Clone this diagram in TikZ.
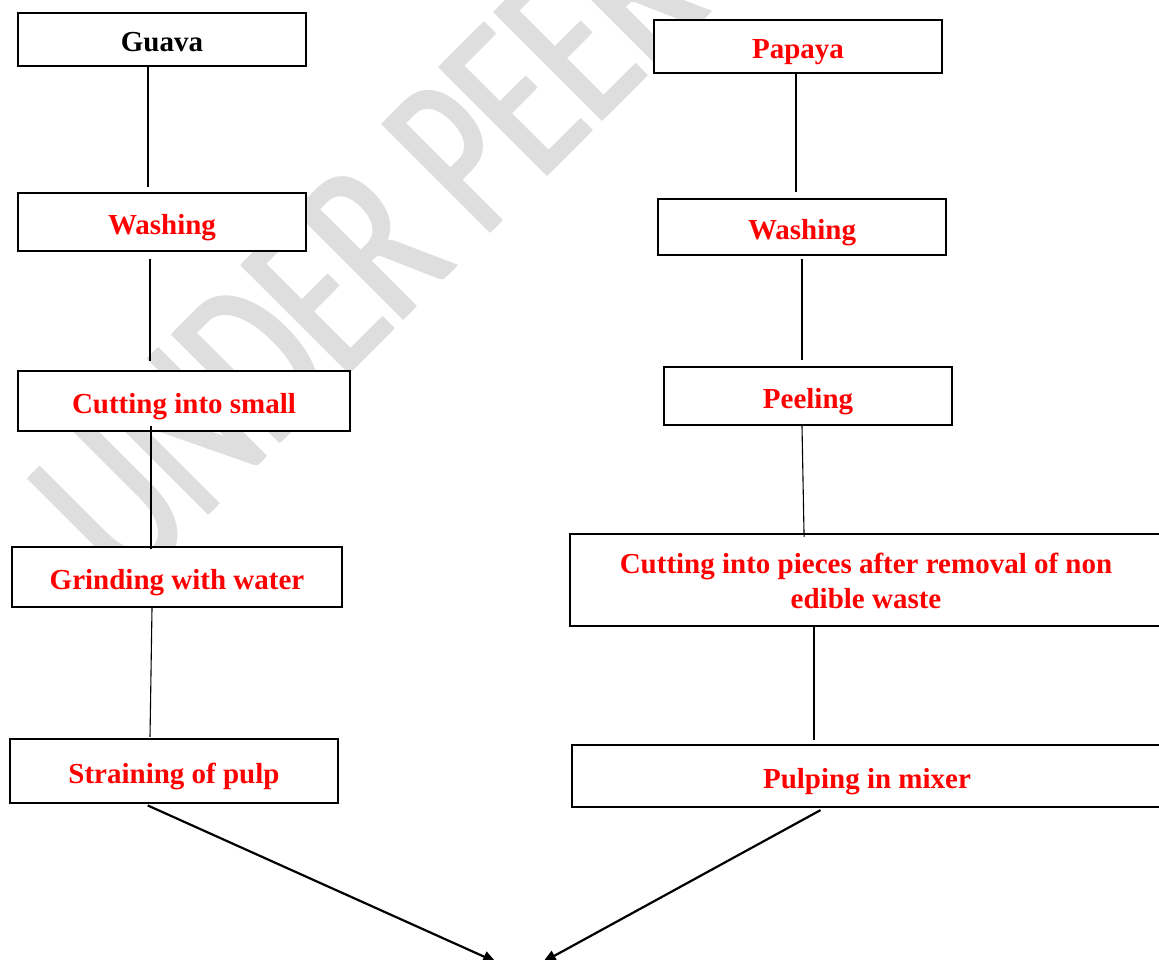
\documentclass[tikz,border=0pt]{standalone}
\usepackage{fontspec}
\setmainfont{Liberation Serif}
\newfontfamily\markfont{Carlito}
\usetikzlibrary{arrows.meta}
\newcommand\marktext{UNDER PEER REVIEW}
\tikzset{
	stepbox/.style={draw, fill=white, line width=2.4pt, inner sep=0pt, text height=27pt, text depth=3pt,
		font=\fontsize{29}{35}\selectfont\bfseries, text=red},
	link/.style={line width=1.1pt},
	flow/.style={line width=2.2pt, -{Triangle[length=13pt,width=11pt]}}
}

\begin{document}
\begin{tikzpicture}[x=1pt, y=-1pt]
				\useasboundingbox (0,0) rectangle (1159,959);
				
				% watermark behind everything
				\node[rotate=45, anchor=base west, inner sep=0pt, text=black!13, font=\markfont\fontsize{240}{240}\selectfont] (mark) at (128,596) {\scalebox{0.66}[1]{\rlap{\marktext}\kern4pt\rlap{\marktext}\kern4pt\marktext}};
				
				% guava side
				\node[stepbox, text=black, minimum width=288, minimum height=53] (guava) at (162,39.5) {Guava};
				\node[stepbox, minimum width=288, minimum height=58] (washg) at (162,222) {Washing};
				\node[stepbox, minimum width=332, minimum height=60] (cutg) at (184,401) {Cutting into small};
				\node[stepbox, minimum width=330, minimum height=60] (grind) at (177,577) {Grinding with water};
				\node[stepbox, minimum width=328, minimum height=64] (strain) at (174,771) {Straining of pulp};
				
				% papaya side
				\node[stepbox, minimum width=288, minimum height=53] (papaya) at (798,46.5) {Papaya};
				\node[stepbox, minimum width=288, minimum height=56] (washp) at (802,227) {Washing};
				\node[stepbox, minimum width=288, minimum height=58] (peel) at (808,396) {Peeling};
				\node[stepbox, minimum width=592, minimum height=92, align=center, text height=60pt] (cutp) at (866,580) {Cutting into pieces after removal of non\\edible waste};
				\node[stepbox, minimum width=590, minimum height=62] (pulp) at (867,776) {Pulping in mixer};
				
				\coordinate (mixl) at (496,962);
				\coordinate (mixr) at (543,962);
				
				\draw[link, shorten >=5pt] ([xshift=-14pt]guava.south) -- ([xshift=-14pt]washg.north);
				\draw[link, shorten <=7pt, shorten >=9pt] ([xshift=-12pt]washg.south) -- ([xshift=-12pt]washg.south |- cutg.north);
				\draw[link, shorten <=-6pt, shorten >=-3pt] ([xshift=-33pt]cutg.south) -- ([xshift=-26pt]grind.north);
				\draw[link, shorten >=1pt] ([xshift=-25pt]grind.south) -- ([xshift=-24pt]strain.north);
				
				\draw[link, shorten >=6pt] ([xshift=-2pt]papaya.south) -- ([xshift=-6pt]washp.north);
				\draw[link, shorten <=3pt, shorten >=6pt] (washp.south) -- ([xshift=-6pt]peel.north);
				\draw[link, shorten >=-4pt] ([xshift=-6pt]peel.south) -- ([xshift=-62pt]cutp.north);
				\draw[link, shorten >=4pt] ([xshift=-52pt]cutp.south) -- ([xshift=-53pt]pulp.north);
				
				\draw[flow, shorten <=3pt] ([xshift=-29pt]strain.south) -- (mixl);
				\draw[flow, shorten <=4pt] ([xshift=-43pt]pulp.south) -- (mixr);
			\end{tikzpicture}
\end{document}
